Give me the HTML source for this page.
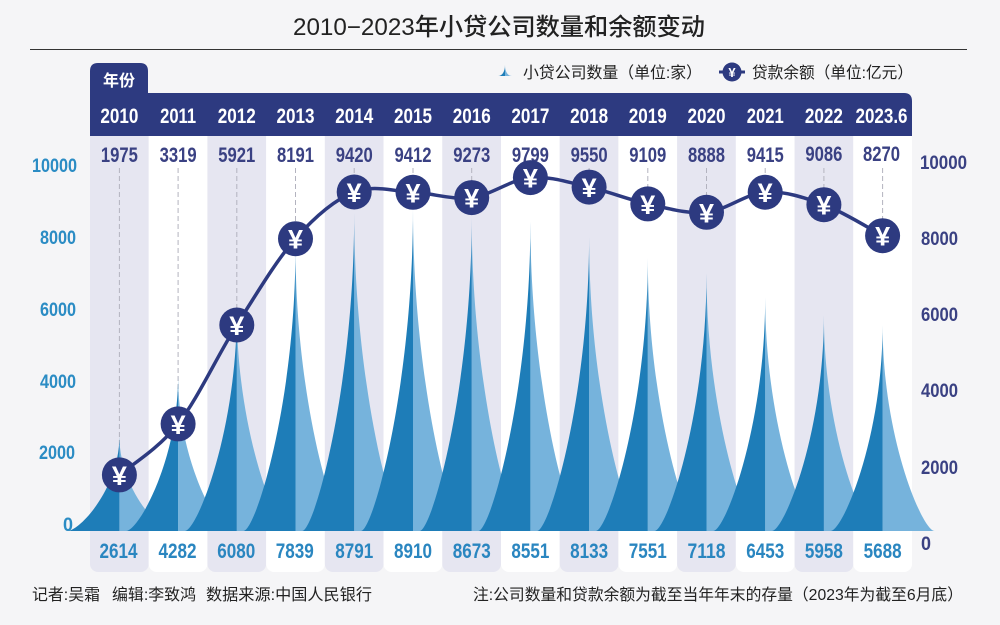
<!DOCTYPE html>
<html><head><meta charset="utf-8"><style>
html,body{margin:0;padding:0;background:#f5f5f7;width:1000px;height:625px;overflow:hidden}
svg{display:block}
.t{font-family:"Liberation Sans","Noto Sans CJK SC",sans-serif}
.n{font-family:"Liberation Sans",sans-serif;font-weight:bold;font-size:21px;text-anchor:middle}
.hd{fill:#ffffff}
.tp{fill:#3a4183}
.bt{fill:#2a86c0}
.la{font-family:"Liberation Sans",sans-serif;font-weight:bold;font-size:19px;fill:#2b8cc4;text-anchor:end}
.ra{font-family:"Liberation Sans",sans-serif;font-weight:bold;font-size:19px;fill:#3a4183}
.y{font-family:"Liberation Sans",sans-serif;font-weight:bold;font-size:27px;fill:#fff;text-anchor:middle}
.dk{fill:#1e7db8}
.lt{fill:#76b3dc}
.dl{stroke:#b3b3bf;stroke-width:1;stroke-dasharray:5 3}
</style></head><body>
<svg width="1000" height="625" viewBox="0 0 1000 625" xmlns="http://www.w3.org/2000/svg">
<rect x="0" y="0" width="1000" height="625" fill="#f5f5f7"/>
<!-- title -->
<text class="t" x="499" y="35" font-size="24" font-weight="500" fill="#222" text-anchor="middle" textLength="412" lengthAdjust="spacingAndGlyphs">2010−2023年小贷公司数量和余额变动</text>
<line x1="30" y1="49.5" x2="967" y2="49.5" stroke="#333" stroke-width="1"/>

<!-- legend -->
<path d="M498,76 C502,76 505,72 505,65 L505,76 Z" class="dk"/>
<path d="M505,65 C505,72 508,76 512,76 L505,76 Z" class="lt"/>
<text class="t" x="523" y="78" font-size="16" fill="#222" textLength="179" lengthAdjust="spacingAndGlyphs">小贷公司数量（单位:家）</text>
<line x1="719" y1="72" x2="745" y2="72" stroke="#2d3a80" stroke-width="3"/>
<circle cx="732" cy="72" r="9.5" fill="#2d3a80"/>
<text x="732" y="77" font-family="Liberation Sans,sans-serif" font-weight="bold" font-size="13" fill="#fff" text-anchor="middle">¥</text>
<text class="t" x="752" y="78" font-size="16" fill="#222" textLength="161" lengthAdjust="spacingAndGlyphs">贷款余额（单位:亿元）</text>

<!-- columns -->
<rect x="90" y="120" width="58.71" height="452" rx="8" fill="#e6e6f1"/>
<rect x="148.71" y="120" width="58.71" height="452" rx="8" fill="#ffffff"/>
<rect x="207.43" y="120" width="58.71" height="452" rx="8" fill="#e6e6f1"/>
<rect x="266.14" y="120" width="58.71" height="452" rx="8" fill="#ffffff"/>
<rect x="324.86" y="120" width="58.71" height="452" rx="8" fill="#e6e6f1"/>
<rect x="383.57" y="120" width="58.71" height="452" rx="8" fill="#ffffff"/>
<rect x="442.29" y="120" width="58.71" height="452" rx="8" fill="#e6e6f1"/>
<rect x="501" y="120" width="58.71" height="452" rx="8" fill="#ffffff"/>
<rect x="559.71" y="120" width="58.71" height="452" rx="8" fill="#e6e6f1"/>
<rect x="618.43" y="120" width="58.71" height="452" rx="8" fill="#ffffff"/>
<rect x="677.14" y="120" width="58.71" height="452" rx="8" fill="#e6e6f1"/>
<rect x="735.86" y="120" width="58.71" height="452" rx="8" fill="#ffffff"/>
<rect x="794.57" y="120" width="58.71" height="452" rx="8" fill="#e6e6f1"/>
<rect x="853.29" y="120" width="58.71" height="452" rx="8" fill="#ffffff"/>

<!-- header -->
<path d="M90,136 V71 Q90,63 98,63 H140 Q148,63 148,71 V93 H904 Q912,93 912,101 V136 Z" fill="#2d3a80"/>
<text class="t" x="119" y="86" font-size="16" font-weight="bold" fill="#fff" text-anchor="middle">年份</text>
<text class="n hd" x="119.4" y="123" textLength="38" lengthAdjust="spacingAndGlyphs">2010</text>
<text class="n hd" x="178.1" y="123" textLength="36" lengthAdjust="spacingAndGlyphs">2011</text>
<text class="n hd" x="236.8" y="123" textLength="38" lengthAdjust="spacingAndGlyphs">2012</text>
<text class="n hd" x="295.5" y="123" textLength="38" lengthAdjust="spacingAndGlyphs">2013</text>
<text class="n hd" x="354.2" y="123" textLength="38" lengthAdjust="spacingAndGlyphs">2014</text>
<text class="n hd" x="413.0" y="123" textLength="38" lengthAdjust="spacingAndGlyphs">2015</text>
<text class="n hd" x="471.7" y="123" textLength="38" lengthAdjust="spacingAndGlyphs">2016</text>
<text class="n hd" x="530.4" y="123" textLength="38" lengthAdjust="spacingAndGlyphs">2017</text>
<text class="n hd" x="589.1" y="123" textLength="38" lengthAdjust="spacingAndGlyphs">2018</text>
<text class="n hd" x="647.8" y="123" textLength="38" lengthAdjust="spacingAndGlyphs">2019</text>
<text class="n hd" x="706.5" y="123" textLength="38" lengthAdjust="spacingAndGlyphs">2020</text>
<text class="n hd" x="765.2" y="123" textLength="37" lengthAdjust="spacingAndGlyphs">2021</text>
<text class="n hd" x="823.9" y="123" textLength="38" lengthAdjust="spacingAndGlyphs">2022</text>
<text class="n hd" x="881.5" y="123" textLength="52" lengthAdjust="spacingAndGlyphs">2023.6</text>

<!-- top values -->
<text class="n tp" x="119.4" y="162" textLength="37" lengthAdjust="spacingAndGlyphs">1975</text>
<text class="n tp" x="178.1" y="162" textLength="37" lengthAdjust="spacingAndGlyphs">3319</text>
<text class="n tp" x="236.8" y="162" textLength="37" lengthAdjust="spacingAndGlyphs">5921</text>
<text class="n tp" x="295.5" y="162" textLength="37" lengthAdjust="spacingAndGlyphs">8191</text>
<text class="n tp" x="354.2" y="162" textLength="37" lengthAdjust="spacingAndGlyphs">9420</text>
<text class="n tp" x="413.0" y="162" textLength="37" lengthAdjust="spacingAndGlyphs">9412</text>
<text class="n tp" x="471.7" y="162" textLength="37" lengthAdjust="spacingAndGlyphs">9273</text>
<text class="n tp" x="530.4" y="162" textLength="37" lengthAdjust="spacingAndGlyphs">9799</text>
<text class="n tp" x="589.1" y="162" textLength="37" lengthAdjust="spacingAndGlyphs">9550</text>
<text class="n tp" x="647.8" y="162" textLength="37" lengthAdjust="spacingAndGlyphs">9109</text>
<text class="n tp" x="706.5" y="162" textLength="37" lengthAdjust="spacingAndGlyphs">8888</text>
<text class="n tp" x="765.2" y="162" textLength="37" lengthAdjust="spacingAndGlyphs">9415</text>
<text class="n tp" x="823.9" y="161" textLength="37" lengthAdjust="spacingAndGlyphs">9086</text>
<text class="n tp" x="881.5" y="161" textLength="37" lengthAdjust="spacingAndGlyphs">8270</text>

<!-- dashed guides -->
<line class="dl" x1="119.4" y1="168" x2="119.4" y2="470"/>
<line class="dl" x1="178.1" y1="168" x2="178.1" y2="420"/>
<line class="dl" x1="236.8" y1="168" x2="236.8" y2="320"/>
<line class="dl" x1="295.5" y1="168" x2="295.5" y2="235"/>
<line class="dl" x1="354.2" y1="168" x2="354.2" y2="190"/>
<line class="dl" x1="413.0" y1="168" x2="413.0" y2="190"/>
<line class="dl" x1="471.7" y1="168" x2="471.7" y2="195"/>
<line class="dl" x1="589.1" y1="168" x2="589.1" y2="185"/>
<line class="dl" x1="647.8" y1="168" x2="647.8" y2="200"/>
<line class="dl" x1="706.5" y1="168" x2="706.5" y2="210"/>
<line class="dl" x1="765.2" y1="168" x2="765.2" y2="190"/>
<line class="dl" x1="823.9" y1="168" x2="823.9" y2="200"/>
<line class="dl" x1="882.6" y1="168" x2="882.6" y2="232"/>

<!-- spikes (unit height paths scaled per value) -->
<g>
<path class="lt" transform="translate(119.4,531) scale(1,94.6)" d="M0,-1 C0,-0.45 40,0 52,0 L0,0 Z"/>
<path class="dk" transform="translate(119.4,531) scale(1,94.6)" d="M-52,0 C-40,0 0,-0.45 0,-1 L0,0 Z"/>
<path class="lt" transform="translate(178.1,531) scale(1,155)" d="M0,-1 C0,-0.45 40,0 52,0 L0,0 Z"/>
<path class="dk" transform="translate(178.1,531) scale(1,155)" d="M-52,0 C-40,0 0,-0.45 0,-1 L0,0 Z"/>
<path class="lt" transform="translate(236.8,531) scale(1,220.1)" d="M0,-1 C0,-0.45 40,0 52,0 L0,0 Z"/>
<path class="dk" transform="translate(236.8,531) scale(1,220.1)" d="M-52,0 C-40,0 0,-0.45 0,-1 L0,0 Z"/>
<path class="lt" transform="translate(295.5,531) scale(1,283.8)" d="M0,-1 C0,-0.45 40,0 52,0 L0,0 Z"/>
<path class="dk" transform="translate(295.5,531) scale(1,283.8)" d="M-52,0 C-40,0 0,-0.45 0,-1 L0,0 Z"/>
<path class="lt" transform="translate(354.2,531) scale(1,318.2)" d="M0,-1 C0,-0.45 40,0 52,0 L0,0 Z"/>
<path class="dk" transform="translate(354.2,531) scale(1,318.2)" d="M-52,0 C-40,0 0,-0.45 0,-1 L0,0 Z"/>
<path class="lt" transform="translate(413,531) scale(1,322.5)" d="M0,-1 C0,-0.45 40,0 52,0 L0,0 Z"/>
<path class="dk" transform="translate(413,531) scale(1,322.5)" d="M-52,0 C-40,0 0,-0.45 0,-1 L0,0 Z"/>
<path class="lt" transform="translate(471.7,531) scale(1,314)" d="M0,-1 C0,-0.45 40,0 52,0 L0,0 Z"/>
<path class="dk" transform="translate(471.7,531) scale(1,314)" d="M-52,0 C-40,0 0,-0.45 0,-1 L0,0 Z"/>
<path class="lt" transform="translate(530.4,531) scale(1,309.5)" d="M0,-1 C0,-0.45 40,0 52,0 L0,0 Z"/>
<path class="dk" transform="translate(530.4,531) scale(1,309.5)" d="M-52,0 C-40,0 0,-0.45 0,-1 L0,0 Z"/>
<path class="lt" transform="translate(589.1,531) scale(1,294.4)" d="M0,-1 C0,-0.45 40,0 52,0 L0,0 Z"/>
<path class="dk" transform="translate(589.1,531) scale(1,294.4)" d="M-52,0 C-40,0 0,-0.45 0,-1 L0,0 Z"/>
<path class="lt" transform="translate(647.8,531) scale(1,273.3)" d="M0,-1 C0,-0.45 40,0 52,0 L0,0 Z"/>
<path class="dk" transform="translate(647.8,531) scale(1,273.3)" d="M-52,0 C-40,0 0,-0.45 0,-1 L0,0 Z"/>
<path class="lt" transform="translate(706.5,531) scale(1,257.7)" d="M0,-1 C0,-0.45 40,0 52,0 L0,0 Z"/>
<path class="dk" transform="translate(706.5,531) scale(1,257.7)" d="M-52,0 C-40,0 0,-0.45 0,-1 L0,0 Z"/>
<path class="lt" transform="translate(765.2,531) scale(1,233.6)" d="M0,-1 C0,-0.45 40,0 52,0 L0,0 Z"/>
<path class="dk" transform="translate(765.2,531) scale(1,233.6)" d="M-52,0 C-40,0 0,-0.45 0,-1 L0,0 Z"/>
<path class="lt" transform="translate(823.9,531) scale(1,215.7)" d="M0,-1 C0,-0.45 40,0 52,0 L0,0 Z"/>
<path class="dk" transform="translate(823.9,531) scale(1,215.7)" d="M-52,0 C-40,0 0,-0.45 0,-1 L0,0 Z"/>
<path class="lt" transform="translate(882.6,531) scale(1,205.9)" d="M0,-1 C0,-0.45 40,0 52,0 L0,0 Z"/>
<path class="dk" transform="translate(882.6,531) scale(1,205.9)" d="M-52,0 C-40,0 0,-0.45 0,-1 L0,0 Z"/>
</g>

<!-- loan line -->
<path fill="none" stroke="#2d3a80" stroke-width="3.5" stroke-linejoin="round" d="M119.4,474.9 C129.2,466.4 158.5,448.9 178.1,423.9 C197.7,398.9 217.2,355.9 236.8,325 C256.4,294.1 275.9,260.9 295.5,238.7 C315.1,216.5 334.6,199.7 354.2,192 C373.8,184.3 393.4,191.4 413,192.3 C432.6,193.2 452.1,200.1 471.7,197.6 C491.3,195.2 510.8,179.4 530.4,177.6 C550,175.9 569.5,182.7 589.1,187.1 C608.7,191.5 628.2,199.7 647.8,203.9 C667.4,208.1 686.9,214.3 706.5,212.3 C726.1,210.4 745.6,193.5 765.2,192.2 C784.8,190.9 804.3,197.5 823.9,204.7 C843.5,211.95 872.8,230.5 882.6,235.7"/>

<!-- coins -->
<g fill="#2d3a80">
<circle cx="119.4" cy="474.9" r="17.5"/>
<circle cx="178.1" cy="423.9" r="17.5"/>
<circle cx="236.8" cy="325" r="17.5"/>
<circle cx="295.5" cy="238.7" r="17.5"/>
<circle cx="354.2" cy="192" r="17.5"/>
<circle cx="413" cy="192.3" r="17.5"/>
<circle cx="471.7" cy="197.6" r="17.5"/>
<circle cx="530.4" cy="177.6" r="17.5"/>
<circle cx="589.1" cy="187.1" r="17.5"/>
<circle cx="647.8" cy="203.9" r="17.5"/>
<circle cx="706.5" cy="212.3" r="17.5"/>
<circle cx="765.2" cy="192.2" r="17.5"/>
<circle cx="823.9" cy="204.7" r="17.5"/>
<circle cx="882.6" cy="235.7" r="17.5"/>
</g>
<text class="y" x="119.4" y="484.9">¥</text>
<text class="y" x="178.1" y="433.9">¥</text>
<text class="y" x="236.8" y="335">¥</text>
<text class="y" x="295.5" y="248.7">¥</text>
<text class="y" x="354.2" y="202">¥</text>
<text class="y" x="413" y="202.3">¥</text>
<text class="y" x="471.7" y="207.6">¥</text>
<text class="y" x="530.4" y="187.6">¥</text>
<text class="y" x="589.1" y="197.1">¥</text>
<text class="y" x="647.8" y="213.9">¥</text>
<text class="y" x="706.5" y="222.3">¥</text>
<text class="y" x="765.2" y="202.2">¥</text>
<text class="y" x="823.9" y="214.7">¥</text>
<text class="y" x="882.6" y="245.7">¥</text>

<!-- bottom values -->
<text class="n bt" x="118.5" y="558" textLength="38" lengthAdjust="spacingAndGlyphs">2614</text>
<text class="n bt" x="177.5" y="558" textLength="38" lengthAdjust="spacingAndGlyphs">4282</text>
<text class="n bt" x="236.3" y="558" textLength="38" lengthAdjust="spacingAndGlyphs">6080</text>
<text class="n bt" x="294.8" y="558" textLength="38" lengthAdjust="spacingAndGlyphs">7839</text>
<text class="n bt" x="354.2" y="558" textLength="38" lengthAdjust="spacingAndGlyphs">8791</text>
<text class="n bt" x="413" y="558" textLength="38" lengthAdjust="spacingAndGlyphs">8910</text>
<text class="n bt" x="471.7" y="558" textLength="38" lengthAdjust="spacingAndGlyphs">8673</text>
<text class="n bt" x="530.4" y="558" textLength="38" lengthAdjust="spacingAndGlyphs">8551</text>
<text class="n bt" x="589.1" y="558" textLength="38" lengthAdjust="spacingAndGlyphs">8133</text>
<text class="n bt" x="647.8" y="558" textLength="38" lengthAdjust="spacingAndGlyphs">7551</text>
<text class="n bt" x="706.5" y="558" textLength="38" lengthAdjust="spacingAndGlyphs">7118</text>
<text class="n bt" x="765.2" y="558" textLength="38" lengthAdjust="spacingAndGlyphs">6453</text>
<text class="n bt" x="823.9" y="558" textLength="38" lengthAdjust="spacingAndGlyphs">5958</text>
<text class="n bt" x="882.6" y="558" textLength="38" lengthAdjust="spacingAndGlyphs">5688</text>

<!-- left axis -->
<text class="la" x="77" y="172" textLength="45" lengthAdjust="spacingAndGlyphs">10000</text>
<text class="la" x="76" y="244" textLength="36" lengthAdjust="spacingAndGlyphs">8000</text>
<text class="la" x="76" y="316" textLength="36" lengthAdjust="spacingAndGlyphs">6000</text>
<text class="la" x="76" y="388" textLength="36" lengthAdjust="spacingAndGlyphs">4000</text>
<text class="la" x="75" y="459" textLength="36" lengthAdjust="spacingAndGlyphs">2000</text>
<text class="la" x="73" y="531" textLength="10" lengthAdjust="spacingAndGlyphs">0</text>

<!-- right axis -->
<text class="ra" x="920" y="169" textLength="47" lengthAdjust="spacingAndGlyphs">10000</text>
<text class="ra" x="921" y="245" textLength="37" lengthAdjust="spacingAndGlyphs">8000</text>
<text class="ra" x="921" y="321" textLength="37" lengthAdjust="spacingAndGlyphs">6000</text>
<text class="ra" x="921" y="397" textLength="37" lengthAdjust="spacingAndGlyphs">4000</text>
<text class="ra" x="921" y="474" textLength="37" lengthAdjust="spacingAndGlyphs">2000</text>
<text class="ra" x="921" y="550" textLength="10" lengthAdjust="spacingAndGlyphs">0</text>

<!-- footer -->
<text class="t" x="32" y="600" font-size="16" fill="#222" textLength="68" lengthAdjust="spacingAndGlyphs">记者:吴霜</text>
<text class="t" x="112" y="600" font-size="16" fill="#222" textLength="84" lengthAdjust="spacingAndGlyphs">编辑:李致鸿</text>
<text class="t" x="206" y="600" font-size="16" fill="#222" textLength="166" lengthAdjust="spacingAndGlyphs">数据来源:中国人民银行</text>
<text class="t" x="473" y="600" font-size="16" fill="#222" textLength="490" lengthAdjust="spacingAndGlyphs">注:公司数量和贷款余额为截至当年年末的存量（2023年为截至6月底）</text>
</svg>
</body></html>
